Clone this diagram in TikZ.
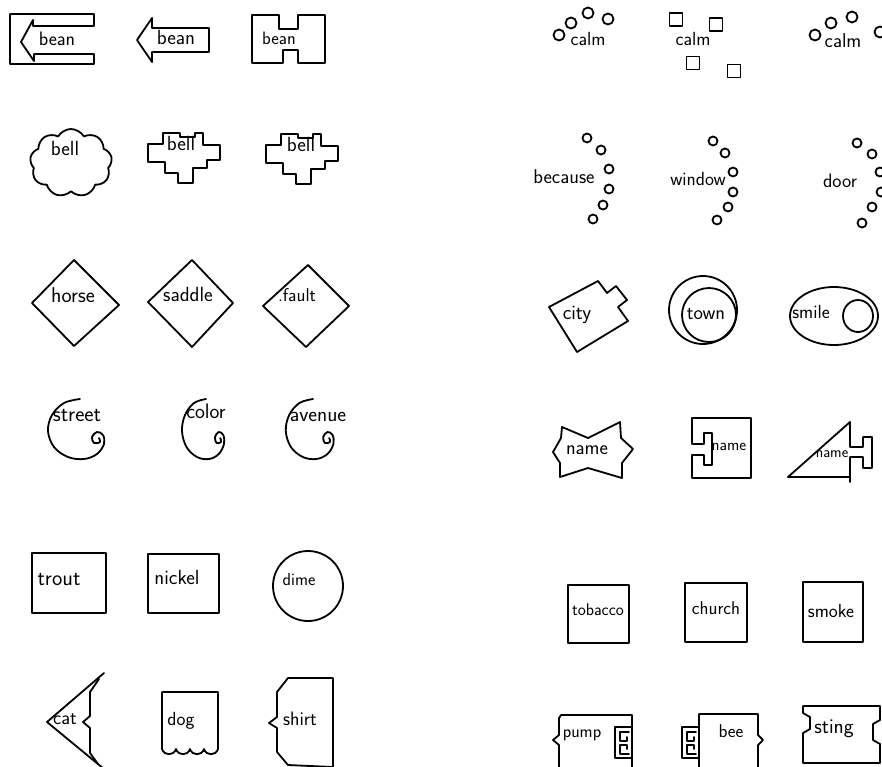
\documentclass[tikz,border=0pt]{standalone}
\usepackage{fontspec}
\usetikzlibrary{shapes.symbols}
\tikzset{
  ln/.style={line width=1.8pt, line join=round, line cap=round},
  lbl/.style={inner sep=0pt, anchor=mid, font=\sffamily\fontsize{#1}{#1}\selectfont},
  lbl/.default=19
}
\newcommand\hookglyph[1]{%
  \draw[ln] (#1,727) -- ({#1-17},727) -- ({#1-17},758) -- (#1,758);
  \draw[ln] ({#1-3},732) -- ({#1-12},732) -- ({#1-12},741) -- ({#1-5},741) -- ({#1-5},737);
  \draw[ln] ({#1-3},754) -- ({#1-12},754) -- ({#1-12},745) -- ({#1-5},745) -- ({#1-5},749);
}
\newcommand\spiralat[3]{%
  \begin{scope}[shift={(#1,#2)}, xscale=#3]
  \draw[ln] plot[smooth, tension=0.6] coordinates {(0,-30) (-16,-26) (-28,-14) (-32,2) (-26,18) (-12,28) (4,30) (17,25) (24,15) (23,6) (17,3) (12,8) (14,14) (20,13) (19,9)};
  \end{scope}
}
\newcommand\bellshape{%
  \draw[ln] (163,133) -- (180,133) -- (180,137) -- (195,137) -- (195,133) -- (203,133) -- (203,145) -- (220,145) -- (220,160) -- (207,160) -- (207,168) -- (193,168) -- (193,183) -- (178,183) -- (178,173) -- (165,173) -- (165,162) -- (148,162) -- (148,144) -- (163,144) -- cycle;
}
\begin{document}
\begin{tikzpicture}[x=1pt,y=-1pt]
\useasboundingbox (0,0) rectangle (882,766);
\fill[white] (0,0) rectangle (882,766);
\clip (0,0) rectangle (882,766);

% ---------- left column ----------
% bean
\draw[ln] (10,14) -- (94,14) -- (94,26) -- (33,26) -- (33,20) -- (21,42) -- (34,61) -- (34,54) -- (94,54) -- (94,64) -- (10,64) -- cycle;
\draw[ln] (152,28) -- (209,28) -- (209,52) -- (152,52) -- (152,62) -- (137,40) -- (152,18) -- cycle;
\draw[ln] (252,15) -- (279,15) -- (279,29) -- (298,29) -- (298,15) -- (325,15) -- (325,63) -- (298,63) -- (298,50) -- (283,50) -- (283,63) -- (252,63) -- cycle;
\node[lbl=19.5] (lbean1) at (57,43) {bean};
\node[lbl=20.5] (lbean2) at (176,42) {bean};
\node[lbl=18] (lbean3) at (279,42) {bean};

% bell
\node[cloud, draw, ln, cloud puffs=9, cloud puff arc=120, cloud ignores aspect, minimum width=82pt, minimum height=68pt, inner sep=0pt] (cloud1) at (71,163) {};
\bellshape
\begin{scope}[shift={(118,1)}]\bellshape\end{scope}
\node[lbl=20.5] (lbell1) at (65,153) {bell};
\node[lbl=20.5] (lbell2) at (181,148) {bell};
\node[lbl=20.5] (lbell3) at (301,149) {bell};

% diamonds
\draw[ln] (32,303) -- (74,260) -- (119,305) -- (74,346) -- cycle;
\draw[ln] (148,302) -- (192,260) -- (233,303) -- (192,347) -- cycle;
\draw[ln] (263,306) -- (308,265) -- (349,306) -- (306,347) -- cycle;
\node[lbl=21.5] (lhorse) at (73,300) {horse};
\node[lbl=20.5] (lsaddle) at (188,299) {saddle};
\node[lbl=18.5] (lfault) at (297,299) {.fault};

% spirals
\spiralat{80}{429}{1}
\spiralat{206}{429}{0.75}
\spiralat{313}{429}{0.85}
\node[lbl=22] (lstreet) at (77,419) {street};
\node[lbl=21] (lcolor) at (206,416) {color};
\node[lbl=21] (lavenue) at (318,419) {avenue};

% trout / nickel / dime
\draw[ln] (32,553) rectangle (106,613);
\draw[ln] (148,554) rectangle (219,613);
\draw[ln] (308,586) circle[radius=35];
\node[lbl=22] (ltrout) at (59,583) {trout};
\node[lbl=20.5] (lnickel) at (177,582) {nickel};
\node[lbl=17.5] (ldime) at (299,583) {dime};

% cat / dog / shirt
\draw[ln] (104,673) -- (47,722) -- (104,769);
\draw[ln] (99,679) -- (90,692) -- (90,716) -- (83,722) -- (90,728) -- (90,753) -- (98,764);
\draw[ln] (162,749) -- (162,692) -- (218,692) -- (218,749)
  .. controls (216,756) and (206,756) .. (204,749)
  .. controls (202,756) and (192,756) .. (190,749)
  .. controls (188,756) and (178,756) .. (176,749)
  .. controls (174,756) and (164,756) .. (162,749);
\draw[ln] (277,692) -- (288,678) -- (333,678) -- (333,767) -- (288,765) -- (277,752) -- (277,728) -- (269,723) -- (277,717) -- cycle;
\node[lbl=19.5] (lcat) at (65,722) {cat};
\node[lbl=19] (ldog) at (181,723) {dog};
\node[lbl=19.5] (lshirt) at (300,723) {shirt};

% ---------- right column ----------
% calm
\foreach \p in {(559,35),(571,23),(588,13),(608,19),(815,35),(831,23),(852,17),(880,32)}
  \draw[ln] \p circle[radius=5.5];
\foreach \p in {(676,19.5),(716,24.5),(693,63),(734,71)}
  \draw[ln] \p +(-6.5,-6.5) rectangle +(6.5,6.5);
\node[lbl=19] (lcalm1) at (588,43) {calm};
\node[lbl=19] (lcalm2) at (693,43) {calm};
\node[lbl=20] (lcalm3) at (843,45) {calm};

% because / window / door
\foreach \p in {(587,138),(601,150),(609,169),(609,189),(603,205),(593,219),
                (713,141),(725,153),(733,172),(733,192),(728,207),(717,220),
                (857,143),(872,154),(880,172),(881,192),(872,207),(862,223)}
  \draw[ln] \p circle[radius=4.5];
\node[lbl=20] (lbecause) at (564,181) {because};
\node[lbl=19] (lwindow) at (698,183) {window};
\node[lbl=19.5] (ldoor) at (840,185) {door};

% city / town / smile
\draw[ln] (549,307) -- (598,281) -- (607,293) -- (616,286) -- (627,300) -- (618,307) -- (628,321) -- (577,352) -- cycle;
\draw[ln] (703,310) circle[radius=34];
\draw[ln] (709,315) circle[radius=27];
\draw[ln] (834,316) circle[x radius=44, y radius=29];
\draw[ln] (858,316) circle[x radius=15, y radius=16];
\node[lbl=20.5] (lcity) at (577,317) {city};
\node[lbl=20] (ltown) at (706,317) {town};
\node[lbl=19] (lsmile) at (811,316) {smile};

% name
\draw[ln] (562,427) -- (588,438) -- (620,422) -- (621,438) -- (633,449) -- (622,463) -- (622,478) -- (588,468) -- (560,477) -- (560,463) -- (553,452) -- (561,438) -- cycle;
\draw[ln] (692,418) -- (751,418) -- (751,478) -- (692,478) -- (692,455) -- (704,455) -- (704,465) -- (712,465) -- (712,433) -- (704,433) -- (704,444) -- (692,444) -- cycle;
\draw[ln] (788,477) -- (850,422) -- (850,447) -- (863,447) -- (863,437) -- (872,437) -- (872,468) -- (863,468) -- (863,457) -- (850,457) -- (850,482);
\draw[ln] (850,477) -- (788,477);
\node[lbl=20] (lname1) at (587,452) {name};
\node[lbl=16.5] (lname2) at (729,448) {name};
\node[lbl=15.5] (lname3) at (832,455) {name};

% tobacco / church / smoke
\draw[ln] (568,585) rectangle (629,643);
\draw[ln] (685,583) rectangle (747,642);
\draw[ln] (803,582) rectangle (863,642);
\node[lbl=17] (ltobacco) at (598,613) {tobacco};
\node[lbl=18.5] (lchurch) at (716,612) {church};
\node[lbl=19] (lsmoke) at (831,615) {smoke};

% pump / bee / sting
\draw[ln] (559,770) -- (559,745) -- (553,740) -- (559,735) -- (559,718) -- (561,715) -- (632,715) -- (632,770);
\hookglyph{632}
\draw[ln] (699,770) -- (699,714) -- (758,714) -- (758,735) -- (763,740) -- (758,745) -- (758,770);
\hookglyph{699}
\draw[ln] (803,706) -- (880,706) -- (880,720) -- (873,724) -- (873,740) -- (880,744) -- (880,763) -- (803,763) -- (803,733) -- (810,729) -- (810,717) -- (803,713) -- cycle;
\node[lbl=17.5] (lpump) at (582,735) {pump};
\node[lbl=18.5] (lbee) at (731,735) {bee};
\node[lbl=21] (lsting) at (834,731) {sting};
\end{tikzpicture}
\end{document}
